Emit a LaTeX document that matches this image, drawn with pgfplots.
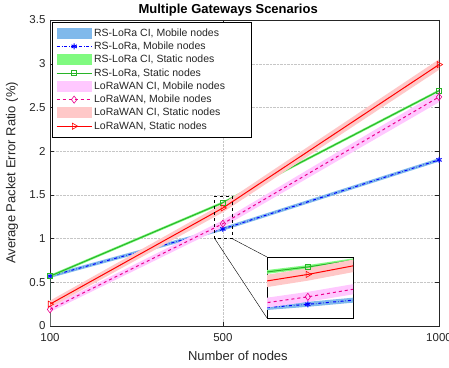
\documentclass[border=0pt]{standalone}
\usepackage{fontspec}
\setmainfont{Liberation Sans}
\usepackage{pgfplots}
\pgfplotsset{compat=1.18}
\definecolor{ciblue}{RGB}{128,185,235}
\definecolor{cigreen}{RGB}{128,250,128}
\definecolor{cimag}{RGB}{255,200,255}
\definecolor{cired}{RGB}{255,200,200}
\definecolor{lgreen}{RGB}{40,180,40}
\definecolor{axgray}{RGB}{38,38,38}
\pgfplotsset{
  ciarea/.style={draw=none, legend image code/.code={\fill[##1] (0pt,-5.5pt) rectangle (35pt,5.5pt);}},
  ciblueS/.style={fill=ciblue, ciarea},
  cigreenS/.style={fill=cigreen, ciarea},
  cimagS/.style={fill=cimag, ciarea},
  ciredS/.style={fill=cired, ciarea},
  blueS/.style={color=blue, dash dot, line width=1pt, mark=asterisk, mark size=3pt, mark options={solid}},
  greenS/.style={color=lgreen, line width=1pt, mark=square, mark size=2.6pt, mark options={line width=0.6pt}},
  magS/.style={color=magenta, dashed, line width=1pt, mark=diamond, mark size=3.6pt, mark options={solid, line width=0.6pt}},
  redS/.style={color=red, line width=1pt, mark=triangle, mark size=3.6pt, mark options={solid, rotate=-90, line width=0.6pt}},
  lineleg/.style={legend image code/.code={\draw[##1, mark=none] (0pt,0pt) -- (35pt,0pt); \draw[##1, only marks] plot coordinates {(17.5pt,0pt)};}},
}
\begin{document}
\begin{tikzpicture}
\begin{axis}[
  name=main,
  scale only axis, width=389pt, height=306pt,
  xmin=100, xmax=1000, ymin=0, ymax=3.5,
  xtick={100,500,1000}, ytick={0,0.5,1,1.5,2,2.5,3,3.5},
  tick align=inside,
  major tick length=4pt,
  axis line style={axgray},
  tick style={axgray},
  grid=major,
  grid style={densely dotted, gray!45},
  ticklabel style={font=\fontsize{11.5}{13}\selectfont, text=axgray},
  /pgf/number format/assume math mode=true,
  /pgf/number format/1000 sep={},
  xticklabel style={yshift=-4pt},
  yticklabel style={xshift=-1pt},
  xlabel={Number of nodes},
  ylabel={Average Packet Error Ratio (\%)},
  every axis x label/.style={at={(axis description cs:0.483,-0.098)}, anchor=center, font=\fontsize{13}{15}\selectfont, text=axgray},
  every axis y label/.style={at={(axis description cs:-0.0977,0.5)}, anchor=center, rotate=90, font=\fontsize{13}{15}\selectfont, text=axgray},
  title={\textbf{Multiple Gateways Scenarios}},
  every axis title/.style={at={(axis description cs:0.458,1.033)}, anchor=center, font=\fontsize{13}{15}\selectfont},
  legend style={at={(0.005,0.994)}, anchor=north west, font=\fontsize{10.5}{12}\selectfont,
    draw=black, row sep=0.2pt, inner xsep=4pt, inner ysep=4.5pt, text=axgray},
  legend cell align=left,
]
\addplot[ciblueS, forget plot] coordinates {(100,0.59) (500,1.13) (1000,1.92) (1000,1.88) (500,1.09) (100,0.55)} \closedcycle;
\addplot[blueS, forget plot] coordinates {(100,0.57) (500,1.11) (1000,1.90)};
\addplot[cigreenS, forget plot] coordinates {(100,0.585) (500,1.425) (1000,2.705) (1000,2.675) (500,1.395) (100,0.555)} \closedcycle;
\addplot[greenS, forget plot] coordinates {(100,0.57) (500,1.41) (1000,2.69)};
\addplot[cimagS, forget plot] coordinates {(100,0.22) (500,1.21) (1000,2.68) (1000,2.56) (500,1.13) (100,0.16)} \closedcycle;
\addplot[magS, forget plot] coordinates {(100,0.19) (500,1.17) (1000,2.62)};
\addplot[ciredS, forget plot] coordinates {(100,0.29) (500,1.40) (1000,3.05) (1000,2.93) (500,1.30) (100,0.21)} \closedcycle;
\addplot[redS, forget plot] coordinates {(100,0.25) (500,1.35) (1000,2.99)};
\addlegendimage{ciblueS}
\addlegendentry{RS-LoRa CI, Mobile nodes}
\addlegendimage{lineleg, blueS}
\addlegendentry{RS-LoRa, Mobile nodes}
\addlegendimage{cigreenS}
\addlegendentry{RS-LoRa CI, Static nodes}
\addlegendimage{lineleg, greenS}
\addlegendentry{RS-LoRa, Static nodes}
\addlegendimage{cimagS}
\addlegendentry{LoRaWAN CI, Mobile nodes\rule{20pt}{0pt}}
\addlegendimage{lineleg, magS}
\addlegendentry{LoRaWAN, Mobile nodes}
\addlegendimage{ciredS}
\addlegendentry{LoRaWAN CI, Static nodes}
\addlegendimage{lineleg, redS}
\addlegendentry{LoRaWAN, Static nodes}
\draw[dashed, black] (axis cs:481,1.0) rectangle (axis cs:521,1.49);
\coordinate (rbl) at (axis cs:481,1.0);
\coordinate (rbr) at (axis cs:521,1.0);
\end{axis}
\begin{axis}[
  name=inset,
  at={(main.south west)}, shift={(217pt,8pt)}, anchor=south west,
  scale only axis, width=86pt, height=61pt,
  xmin=481, xmax=521, ymin=1.0, ymax=1.49,
  xtick=\empty, ytick=\empty,
  axis background/.style={fill=white},
  axis line style={black, thick},
  clip=true,
]
\addplot[ciblueS] coordinates {(100,0.59) (500,1.13) (1000,1.92) (1000,1.88) (500,1.09) (100,0.55)} \closedcycle;
\addplot[blueS] coordinates {(100,0.57) (500,1.11) (1000,1.90)};
\addplot[cigreenS] coordinates {(100,0.585) (500,1.425) (1000,2.705) (1000,2.675) (500,1.395) (100,0.555)} \closedcycle;
\addplot[greenS] coordinates {(100,0.57) (500,1.41) (1000,2.69)};
\addplot[cimagS] coordinates {(100,0.22) (500,1.21) (1000,2.68) (1000,2.56) (500,1.13) (100,0.16)} \closedcycle;
\addplot[magS] coordinates {(100,0.19) (500,1.17) (1000,2.62)};
\addplot[ciredS] coordinates {(100,0.29) (500,1.40) (1000,3.05) (1000,2.93) (500,1.30) (100,0.21)} \closedcycle;
\addplot[redS] coordinates {(100,0.25) (500,1.35) (1000,2.99)};
\end{axis}
\draw[black] (rbl) -- (inset.south west);
\draw[black] (rbr) -- (inset.north west);
\pgfresetboundingbox
\path (main.south west) ++(-50pt,-41pt) rectangle ++(449pt,367pt);
\end{tikzpicture}
\end{document}
